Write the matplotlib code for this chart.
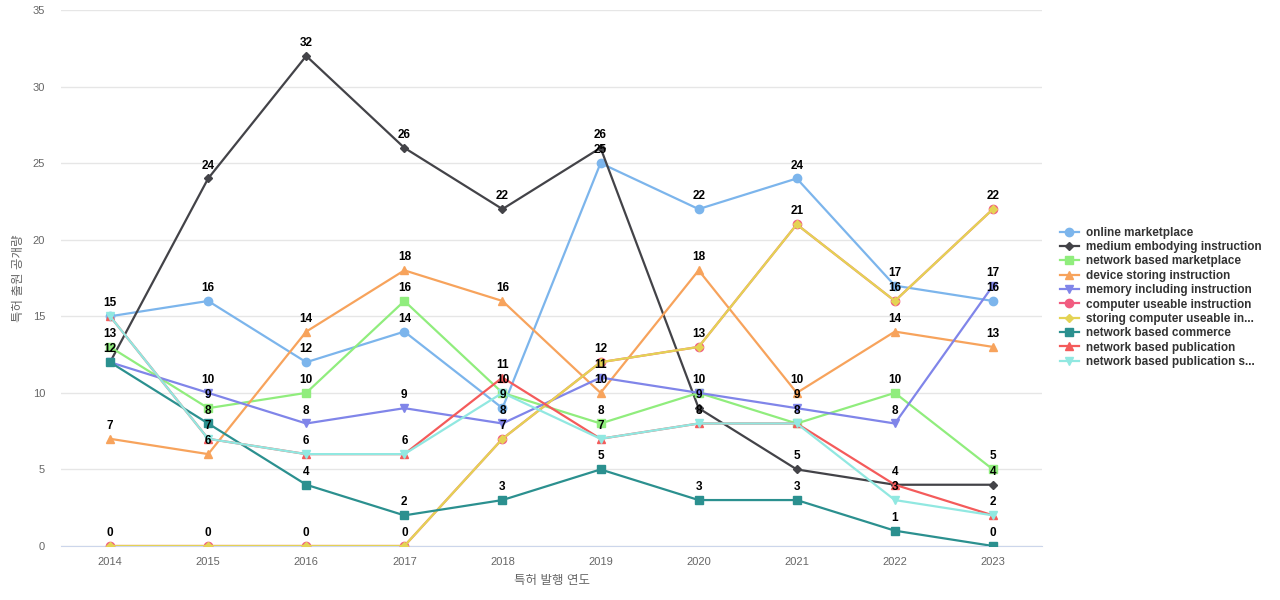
import numpy as np
import matplotlib
matplotlib.use("Agg")
import matplotlib.pyplot as plt

plt.rcParams['font.family'] = ['Liberation Sans', 'Noto Sans CJK KR', 'DejaVu Sans']

# data

years = ['2014', '2015', '2016', '2017', '2018', '2019', '2020', '2021', '2022', '2023']

online_marketplace = [15, 16, 12, 14, 9, 25, 22, 24, 17, 16]
medium_embodying = [12, 24, 32, 26, 22, 26, 9, 5, 4, 4]
network_marketplace = [13, 9, 10, 16, 10, 8, 10, 8, 10, 5]
device_storing = [7, 6, 14, 18, 16, 10, 18, 10, 14, 13]
memory_including = [12, 10, 8, 9, 8, 11, 10, 9, 8, 17]
computer_useable = [0, 0, 0, 0, 7, 12, 13, 21, 16, 22]
storing_computer = [0, 0, 0, 0, 7, 12, 13, 21, 16, 22]
network_commerce = [12, 8, 4, 2, 3, 5, 3, 3, 1, 0]
network_publication = [15, 7, 6, 6, 11, 7, 8, 8, 4, 2]
network_publication_s = [15, 7, 6, 6, 10, 7, 8, 8, 3, 2]

series = [
    ("online marketplace", online_marketplace, '#7cb5ec', 'o', 6),
    ("medium embodying instruction", medium_embodying, '#434348', 'D', 4),
    ("network based marketplace", network_marketplace, '#90ed7d', 's', 6),
    ("device storing instruction", device_storing, '#f7a35c', '^', 5.5),
    ("memory including instruction", memory_including, '#8085e9', 'v', 5.5),
    ("computer useable instruction", computer_useable, '#f15c80', 'o', 6),
    ("storing computer useable in...", storing_computer, '#e4d354', 'D', 4),
    ("network based commerce", network_commerce, '#2b908f', 's', 6),
    ("network based publication", network_publication, '#f45b5b', '^', 5.5),
    ("network based publication s...", network_publication_s, '#91e8e1', 'v', 5.5),
]

# plotting

fig = plt.figure(figsize=(12.8, 6), dpi=100)
ax = fig.add_axes([61/1280, 54/600, 981/1280, 536/600])

x = np.arange(len(years))
done = set()
for name, vals, col, mk, ms in series:
    ax.plot(x, vals, color=col, linewidth=1.6, marker=mk, markersize=ms,
            markeredgecolor=col, label=name, zorder=3)
    for xi, v in zip(x, vals):
        if (xi, v) in done:
            continue
        done.add((xi, v))
        ax.annotate(str(v), (xi, v), xytext=(0, 5), textcoords='offset points',
                    ha='center', va='bottom', fontsize=8.5, fontweight='bold',
                    color='#000000', zorder=5)

ax.set_xlim(-0.5, len(years) - 0.5)
ax.set_ylim(0, 35)
ax.set_yticks(np.arange(0, 36, 5))
ax.set_xticks(x)
ax.set_xticklabels(years)
ax.grid(axis='y', color='#e6e6e6', linewidth=1)
ax.set_axisbelow(True)
for s in ['top', 'right', 'left']:
    ax.spines[s].set_visible(False)
ax.spines['bottom'].set_color('#ccd6eb')
ax.tick_params(axis='both', length=0, labelsize=8, colors='#666666')
ax.tick_params(axis='x', pad=8)
ax.tick_params(axis='y', pad=11.5)
ax.set_xlabel('특허 발행 연도', fontsize=9, color='#666666', labelpad=6)
ax.set_ylabel('특허 출원 공개량', fontsize=9, color='#666666')
ax.yaxis.set_label_coords(-(61 - 25) / 981, 0.5)

leg = fig.legend(loc='upper left', bbox_to_anchor=(1055/1280, 1 - 222/600),
                 frameon=False, fontsize=8.5, handlelength=1.6,
                 labelspacing=0.2, handletextpad=0.6, borderaxespad=0)
for t in leg.get_texts():
    t.set_fontweight('bold')
    t.set_color('#333333')

plt.savefig('out.png', dpi=100)
